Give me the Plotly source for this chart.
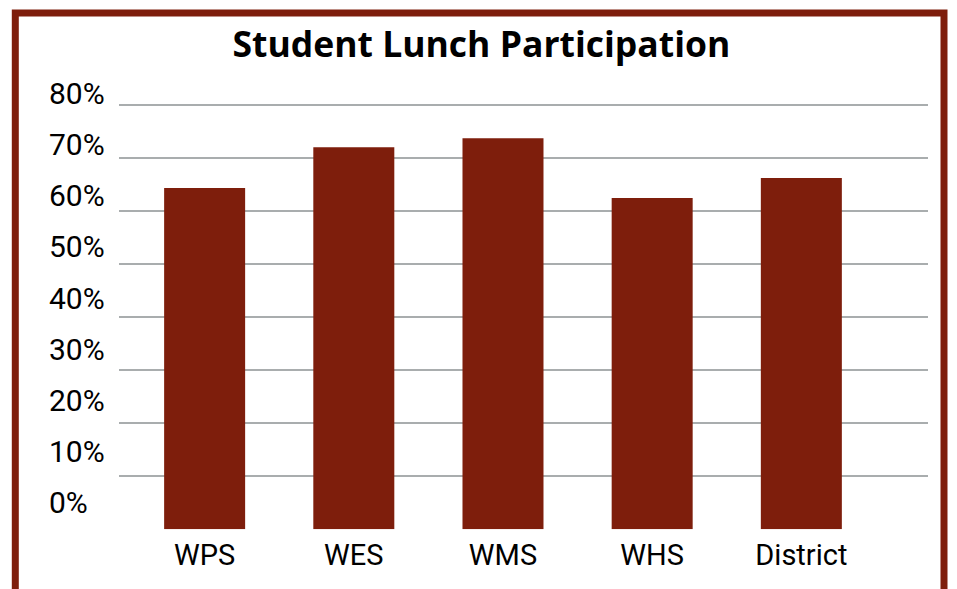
import plotly.graph_objects as go

# ---- data ----
schools = ["WPS", "WES", "WMS", "WHS", "District"]
participation = [64.4, 72.1, 73.8, 62.5, 66.3]
tick_values = [0, 10, 20, 30, 40, 50, 60, 70, 80]
tick_labels = ["0%", "10%", "20%", "30%", "40%", "50%", "60%", "70%", "80%"]
chart_title = "Student Lunch Participation"

BAR = "#7E1E0C"
GRID = "#A9ADAE"
LABEL_FONT = "Roboto"

W, H = 957, 589
OFF = 8  # page body margin


def px(x):
    return (x - OFF) / W


def py(y):
    return (H - (y - OFF)) / H


fig = go.Figure()
fig.add_trace(go.Bar(
    x=schools, y=participation, marker=dict(color=BAR, line=dict(width=0)),
    hoverinfo="x+y", showlegend=False,
))
# invisible carrier so the label axis (y2) is drawn
fig.add_trace(go.Scatter(
    x=schools, y=[None] * len(schools), yaxis="y2", mode="markers",
    showlegend=False, hoverinfo="skip",
))

fig.update_layout(
    width=W, height=H,
    margin=dict(l=0, r=0, t=0, b=0, autoexpand=False),
    paper_bgcolor="white", plot_bgcolor="white",
    bargap=0.457,
    title=dict(
        text="<b>" + chart_title + "</b>",
        font=dict(family="Open Sans", size=35.5, color="black"),
        x=px(481.4), xanchor="center", y=py(45), yanchor="middle",
        automargin=False,
    ),
    xaxis=dict(
        domain=[px(119), px(928)],
        range=[-0.574, 4.849],
        showgrid=False, showline=False, zeroline=False, ticks="",
        tickfont=dict(family=LABEL_FONT, size=29, color="black"),
        ticklabelstandoff=6,
        automargin=False,
    ),
    yaxis=dict(
        domain=[py(529.3), py(92.05)],
        range=[0, 82.5],
        dtick=10, tick0=0,
        showgrid=True, gridcolor=GRID, gridwidth=1.5,
        showticklabels=False, ticks="", zeroline=False, showline=False,
        automargin=False,
    ),
    yaxis2=dict(
        overlaying="y", side="right", anchor="free", position=px(48),
        range=[-5.3, 80.34],
        tickmode="array", tickvals=tick_values, ticktext=tick_labels,
        showgrid=False, zeroline=False, showline=False, ticks="",
        tickfont=dict(family=LABEL_FONT, size=30, color="black"),
        automargin=False,
    ),
    shapes=[dict(
        type="rect", xref="paper", yref="paper",
        x0=px(15.3), x1=px(944), y0=-0.05, y1=py(13),
        line=dict(color=BAR, width=7), fillcolor="rgba(0,0,0,0)", layer="above",
    )],
)

fig.write_html("out.html")
